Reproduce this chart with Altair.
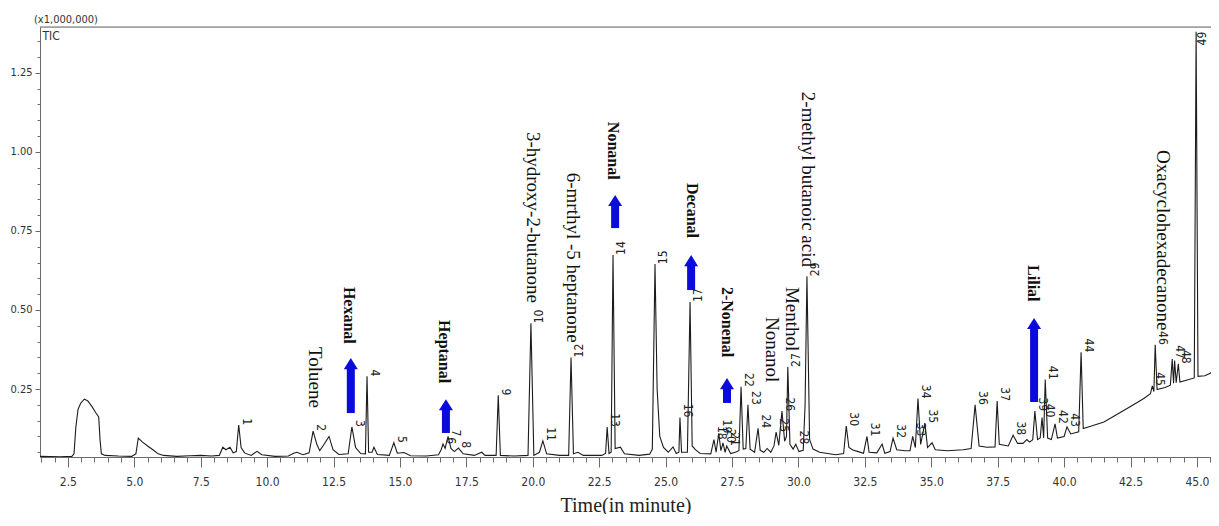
import altair as alt
import pandas as pd

# ---------------- data ----------------
trace_time = [1.45, 2.2, 2.65, 2.73, 2.8, 2.88, 2.98, 3.12, 3.25, 3.4, 3.55, 3.66, 3.71, 3.76, 3.9, 4.4, 4.9,
              5.06, 5.15, 5.3, 5.5, 5.7, 5.9, 6.1, 6.6, 7.1, 7.5, 7.9, 8.2, 8.33, 8.45, 8.6, 8.72, 8.84, 8.93,
              9.02, 9.15, 9.4, 9.62, 9.8, 10.3, 10.8, 11.0, 11.12, 11.35, 11.58, 11.73, 11.87, 11.98, 12.12,
              12.33, 12.48, 12.7, 13.05, 13.19, 13.33, 13.52, 13.7, 13.76, 13.82, 13.95, 14.02, 14.15, 14.6,
              14.77, 14.9, 15.15, 15.4, 16.0, 16.45, 16.55, 16.62, 16.7, 16.81, 16.92, 17.05, 17.2, 17.38,
              17.8, 18.08, 18.2, 18.62, 18.7, 18.78, 19.3, 19.82, 19.93, 20.04, 20.25, 20.38, 20.52, 21.0,
              21.35, 21.44, 21.53, 21.7, 21.9, 22.6, 22.74, 22.8, 22.87, 22.95, 23.02, 23.1, 23.3, 23.45,
              24.0, 24.4, 24.5, 24.6, 24.68, 24.78, 24.92, 25.1, 25.28, 25.4, 25.5, 25.54, 25.6, 25.82,
              25.92, 26.0, 26.12, 26.3, 26.7, 26.82, 26.9, 27.0, 27.08, 27.16, 27.24, 27.3, 27.45, 27.62,
              27.76, 27.84, 27.92, 28.02, 28.1, 28.18, 28.35, 28.48, 28.56, 28.7, 28.82, 28.96, 29.08,
              29.16, 29.26, 29.38, 29.48, 29.55, 29.6, 29.68, 29.8, 29.9, 30.02, 30.18, 30.25, 30.32,
              30.42, 30.55, 30.8, 31.1, 31.4, 31.7, 31.8, 31.9, 32.05, 32.25, 32.45, 32.58, 32.66, 32.95,
              33.15, 33.25, 33.45, 33.56, 33.7, 34.0, 34.2, 34.3, 34.4, 34.5, 34.6, 34.76, 34.86, 35.03,
              35.15, 35.6, 36.2, 36.5, 36.65, 36.8, 37.1, 37.4, 37.48, 37.56, 37.9, 38.08, 38.25, 38.45,
              38.6, 38.7, 38.82, 38.9, 39.0, 39.1, 39.17, 39.23, 39.29, 39.38, 39.52, 39.66, 39.75, 40.0,
              40.11, 40.25, 40.55, 40.64, 40.72, 41.0, 41.5, 42.0, 42.5, 43.0, 43.25, 43.32, 43.38, 43.43,
              43.5, 43.8, 44.0, 44.07, 44.12, 44.16, 44.22, 44.3, 44.36, 44.6, 44.9, 44.97, 45.04, 45.3,
              45.5, 45.6, 45.7, 45.8]
trace_tic = [0.037, 0.036, 0.037, 0.045, 0.13, 0.185, 0.205, 0.218, 0.212, 0.195, 0.175, 0.162, 0.09, 0.045,
             0.04, 0.038, 0.037, 0.045, 0.095, 0.083, 0.07, 0.058, 0.045, 0.04, 0.037, 0.039, 0.04, 0.038,
             0.04, 0.066, 0.058, 0.066, 0.048, 0.052, 0.136, 0.065, 0.048, 0.04, 0.053, 0.042, 0.037, 0.038,
             0.047, 0.05, 0.042, 0.048, 0.117, 0.075, 0.055, 0.072, 0.1, 0.058, 0.043, 0.045, 0.13, 0.065,
             0.046, 0.045, 0.29, 0.05, 0.05, 0.066, 0.043, 0.04, 0.08, 0.047, 0.049, 0.039, 0.038, 0.042,
             0.058, 0.076, 0.062, 0.1, 0.062, 0.052, 0.063, 0.045, 0.04, 0.05, 0.04, 0.04, 0.23, 0.04,
             0.038, 0.04, 0.458, 0.04, 0.05, 0.086, 0.045, 0.04, 0.04, 0.35, 0.045, 0.05, 0.04, 0.04,
             0.046, 0.13, 0.046, 0.05, 0.674, 0.062, 0.066, 0.045, 0.04, 0.044, 0.06, 0.645, 0.25, 0.1,
             0.065, 0.05, 0.067, 0.046, 0.05, 0.16, 0.05, 0.05, 0.525, 0.07, 0.058, 0.046, 0.045, 0.09,
             0.05, 0.11, 0.055, 0.08, 0.05, 0.07, 0.046, 0.05, 0.055, 0.257, 0.06, 0.062, 0.2, 0.06, 0.05,
             0.126, 0.056, 0.05, 0.062, 0.05, 0.07, 0.114, 0.072, 0.18, 0.085, 0.1, 0.32, 0.075, 0.06,
             0.075, 0.052, 0.056, 0.2, 0.607, 0.09, 0.06, 0.05, 0.046, 0.042, 0.046, 0.133, 0.065, 0.057,
             0.052, 0.047, 0.1, 0.05, 0.048, 0.076, 0.047, 0.052, 0.095, 0.058, 0.055, 0.055, 0.1, 0.065,
             0.22, 0.075, 0.142, 0.065, 0.08, 0.058, 0.055, 0.058, 0.062, 0.2, 0.07, 0.066, 0.067, 0.212,
             0.075, 0.07, 0.104, 0.078, 0.078, 0.09, 0.082, 0.09, 0.18, 0.09, 0.095, 0.16, 0.095, 0.28,
             0.095, 0.09, 0.14, 0.095, 0.1, 0.13, 0.108, 0.115, 0.366, 0.125, 0.132, 0.146, 0.17, 0.195,
             0.22, 0.235, 0.26, 0.242, 0.39, 0.248, 0.255, 0.262, 0.345, 0.268, 0.34, 0.27, 0.33, 0.272,
             0.278, 0.285, 1.38, 0.29, 0.292, 0.3, 0.305, 0.48, 0.31]

peak_ids = list(range(1, 50))
peak_time = [8.93, 11.73, 13.19, 13.76, 14.77, 16.62, 16.81, 17.2, 18.7, 19.93, 20.38, 21.44, 22.8, 23.02,
             24.6, 25.54, 25.92, 26.82, 27.0, 27.16, 27.3, 27.84, 28.1, 28.48, 29.16, 29.38, 29.6, 29.9,
             30.32, 31.8, 32.58, 33.56, 34.3, 34.5, 34.76, 36.65, 37.48, 38.08, 38.9, 39.17, 39.29, 39.66,
             40.11, 40.64, 43.32, 43.43, 44.07, 44.3, 44.97]
peak_height = [0.136, 0.117, 0.13, 0.29, 0.08, 0.076, 0.1, 0.063, 0.23, 0.458, 0.086, 0.35, 0.13, 0.674,
               0.645, 0.16, 0.525, 0.09, 0.11, 0.08, 0.07, 0.257, 0.2, 0.126, 0.114, 0.18, 0.32, 0.075,
               0.607, 0.133, 0.1, 0.095, 0.1, 0.22, 0.142, 0.2, 0.212, 0.104, 0.18, 0.16, 0.28, 0.14,
               0.13, 0.366, 0.26, 0.39, 0.345, 0.33, 1.38]
reversed_ids = [10, 12, 14, 15, 17, 27, 29]
top_ids = [49]

names = ["Toluene", "Hexanal", "Heptanal", "3-hydroxy-2-butanone", "6-mrthyl -5 heptanone", "Nonanal",
         "Decanal", "2-Nonenal", "Nonanol", "Menthol", "2-methyl butanoic acid", "Lilial",
         "Oxacyclohexadecanone"]
name_time = [11.8, 13.08, 16.66, 20.01, 21.51, 23.02, 25.99, 27.31, 29.0, 29.76, 30.36, 38.83, 43.73]
name_top = [0.383, 0.573, 0.468, 1.063, 0.934, 1.095, 0.902, 0.573, 0.478, 0.573, 1.19, 0.642, 1.006]
name_bold = [False, True, True, False, False, True, True, True, False, False, False, True, False]

arrow_time = [13.15, 16.73, 23.1, 25.96, 27.31, 38.87]
arrow_tip = [0.348, 0.218, 0.864, 0.674, 0.285, 0.475]
arrow_base = [0.174, 0.111, 0.759, 0.563, 0.206, 0.209]

x_ticks = [round(1.5 + 0.5 * k, 1) for k in range(89)]
y_ticks = [round(0.05 * k, 2) for k in range(1, 28)]

X_DOMAIN = [1.45, 45.53]
Y_DOMAIN = [0.035, 1.395]

# ---------------- tables ----------------
trace = pd.DataFrame({"t": trace_time, "v": trace_tic})
peaks = pd.DataFrame({"id": peak_ids, "t": peak_time, "v": peak_height})
peaks["label"] = peaks["id"].astype(str)
p_norm = peaks[~peaks["id"].isin(reversed_ids + top_ids)]
p_rev = peaks[peaks["id"].isin(reversed_ids)]
p_top = peaks[peaks["id"].isin(top_ids)]
nm = pd.DataFrame({"name": names, "t": name_time, "v": name_top, "bold": name_bold})
arrows = pd.DataFrame({"t": arrow_time, "tip": arrow_tip, "base": arrow_base})
arrows["shaft_top"] = arrows["tip"] - 0.028
frame = pd.DataFrame({"x0": [X_DOMAIN[0]], "x1": [X_DOMAIN[1]], "ytop": [Y_DOMAIN[1]]})

NARROW = "Liberation Sans Narrow, Arial Narrow, DejaVu Sans Condensed, sans-serif"
SERIF = "Liberation Serif, Times New Roman, serif"
BLUE = "#0b0bdc"
AX = "#6a6a6a"

xs = alt.Scale(domain=X_DOMAIN, nice=False, zero=False)
ys = alt.Scale(domain=Y_DOMAIN, nice=False, zero=False)

X_MAJOR = "datum.value % 2.5 === 0"
Y_MAJOR = "(datum.value % 0.25) < 0.001 || (datum.value % 0.25) > 0.249"

x_axis = alt.Axis(
    orient="bottom", values=x_ticks, grid=False,
    labelExpr=f"({X_MAJOR}) ? format(datum.value, '.1f') : ''",
    tickSize={"condition": {"test": X_MAJOR, "value": 10}, "value": 5},
    tickColor=AX, domainColor=AX, labelColor="#333", labelFont=NARROW, labelFontSize=12,
    labelPadding=9, labelOverlap=False, labelFlush=False,
    title="Time(in minute)", titleFont=SERIF, titleFontSize=20, titleFontWeight="normal",
    titleColor="#222", titlePadding=8,
)
y_axis = alt.Axis(
    orient="left", values=y_ticks, grid=False,
    labelExpr=f"({Y_MAJOR}) ? format(datum.value, '.2f') : ''",
    tickSize={"condition": {"test": Y_MAJOR, "value": 5}, "value": 3},
    tickColor=AX, domainColor=AX, labelColor="#333", labelFont=NARROW, labelFontSize=11,
    labelPadding=3, labelOverlap=False, labelFlush=False,
    title="TIC", titleAngle=0, titleAlign="left", titleBaseline="top",
    titleX=2, titleY=3, titleFont=NARROW, titleFontSize=12, titleFontWeight="normal", titleColor="#333",
)


def xq(field="t"):
    return alt.X(f"{field}:Q", scale=xs, axis=None)


def yq(field="v"):
    return alt.Y(f"{field}:Q", scale=ys, axis=None)


line = alt.Chart(trace).mark_line(color="#1c1c1c", strokeWidth=1.1, clip=True).encode(
    x=alt.X("t:Q", scale=xs, axis=x_axis),
    y=alt.Y("v:Q", scale=ys, axis=y_axis),
)

top_line = alt.Chart(frame).mark_rule(color=AX, strokeWidth=1).encode(
    x=xq("x0"), x2="x1:Q", y=yq("ytop")
)

lab_norm = alt.Chart(p_norm).mark_text(
    angle=90, align="right", baseline="middle", dy=-8, font=NARROW, fontSize=12, color="#222"
).encode(x=xq(), y=yq(), text="label:N")

lab_rev = alt.Chart(p_rev).mark_text(
    angle=270, align="left", baseline="middle", dy=8, font=NARROW, fontSize=12, color="#222"
).encode(x=xq(), y=yq(), text="label:N")

lab_top = alt.Chart(p_top).mark_text(
    angle=270, align="right", baseline="middle", dy=6, font=NARROW, fontSize=12, color="#222"
).encode(x=xq(), y=yq(), text="label:N")

names_norm = alt.Chart(nm[~nm["bold"]]).mark_text(
    angle=90, align="left", baseline="middle", font=SERIF, fontSize=19, color="#111"
).encode(x=xq(), y=yq(), text="name:N")

names_bold = alt.Chart(nm[nm["bold"]]).mark_text(
    angle=90, align="left", baseline="middle", font=SERIF, fontSize=16, fontWeight="bold", color="#111"
).encode(x=xq(), y=yq(), text="name:N")

shaft = alt.Chart(arrows).mark_rule(color=BLUE, strokeWidth=8, strokeCap="butt").encode(
    x=xq(), y=yq("base"), y2="shaft_top:Q"
)
head = alt.Chart(arrows).mark_point(
    shape="M-1,1.6L0,0L1,1.6Z", filled=True, size=196, color=BLUE, opacity=1, strokeWidth=0
).encode(x=xq(), y=yq("tip"))

chart = alt.layer(
    line, top_line, lab_norm, lab_rev, lab_top, names_norm, names_bold, shaft, head
).resolve_axis(x="independent", y="independent").properties(
    width=1171, height=430, autosize="none",
    padding={"left": 32, "top": 19, "right": 0, "bottom": 57},
    title=alt.TitleParams("(x1,000,000)", anchor="start", frame="group", baseline="bottom", offset=4,
                          dx=-6, dy=13, font=NARROW, fontSize=11, fontWeight="normal", color="#333"),
).configure_view(stroke=None).configure(background="white")

chart.save("out.html", embed_options={"renderer": "svg", "actions": False})
